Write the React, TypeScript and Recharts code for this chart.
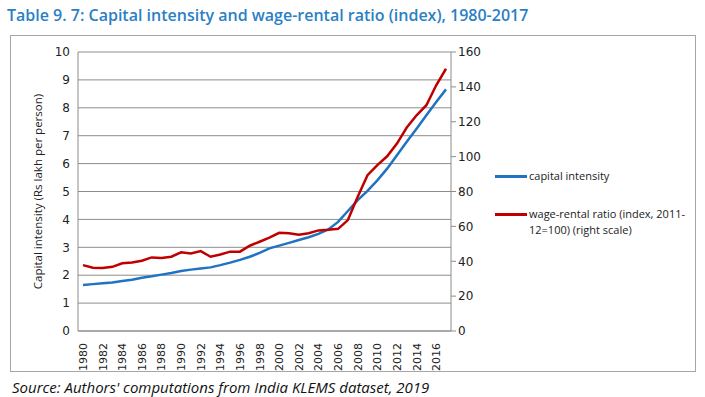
import { LineChart, Line, XAxis, YAxis, CartesianGrid } from "recharts";

const years = [
  1980, 1981, 1982, 1983, 1984, 1985, 1986, 1987, 1988, 1989, 1990, 1991, 1992, 1993, 1994, 1995, 1996, 1997, 1998,
  1999, 2000, 2001, 2002, 2003, 2004, 2005, 2006, 2007, 2008, 2009, 2010, 2011, 2012, 2013, 2014, 2015, 2016, 2017,
];

// Rs lakh per person (left scale)
const capitalIntensity = [
  1.65, 1.68, 1.71, 1.74, 1.79, 1.84, 1.91, 1.96, 2.02, 2.08, 2.15, 2.2, 2.24, 2.28, 2.36, 2.45, 2.55, 2.66, 2.8,
  2.96, 3.06, 3.16, 3.26, 3.36, 3.48, 3.64, 3.91, 4.3, 4.69, 5.02, 5.4, 5.82, 6.3, 6.78, 7.25, 7.73, 8.21, 8.66,
];

// index, 2011-12=100 (right scale)
const wageRental = [
  37.8, 36.3, 36.1, 36.8, 38.8, 39.3, 40.3, 42.2, 41.8, 42.6, 45.1, 44.5, 45.8, 42.6, 43.9, 45.5, 45.5, 48.9, 51.2,
  53.5, 56.3, 56.1, 55.2, 56.1, 57.7, 58.0, 58.6, 63.6, 77.0, 89.4, 95.1, 100.2, 107.5, 116.7, 123.7, 129.5, 140.9,
  150.4,
];

const leftTicks = [0, 1, 2, 3, 4, 5, 6, 7, 8, 9, 10];
const rightTicks = [0, 20, 40, 60, 80, 100, 120, 140, 160];

const data = years.map((y, i) => ({ year: y, ci: capitalIntensity[i], wr: wageRental[i] }));

const BLUE = "#1f73c0";
const RED = "#c00000";
const GRID = "#8c8c8c";

function YearTick(props: any) {
  const { x, y, payload } = props;
  return (
    <text
      x={0}
      y={0}
      transform={`translate(${x + 4},${y + 4}) rotate(-90)`}
      textAnchor="end"
      fontSize={11}
      fontFamily="DejaVu Sans"
      fill="#222"
    >
      {payload.value}
    </text>
  );
}

export default function App() {
  return (
    <div style={{ position: "absolute", left: 0, top: 0, width: 705, height: 397, background: "#fff" }}>
      <div
        style={{
          position: "absolute",
          left: 7,
          top: 4,
          fontFamily: "Open Sans",
          fontWeight: 600,
          fontSize: 16,
          color: "#2b80c5",
          whiteSpace: "nowrap",
        }}
      >
        Table 9. 7: Capital intensity and wage-rental ratio (index), 1980-2017
      </div>
      <div
        style={{
          position: "absolute",
          left: 10,
          top: 35,
          width: 686,
          height: 337,
          border: "1px solid #a6a6a6",
          boxSizing: "border-box",
        }}
      >
        <LineChart
          width={684}
          height={335}
          data={data}
          margin={{ top: 16, right: 204, left: 0, bottom: 0 }}
        >
          <CartesianGrid vertical={false} stroke={GRID} yAxisId="left" horizontalValues={leftTicks} />
          <XAxis
            dataKey="year"
            interval={1}
            tick={<YearTick />}
            tickLine={false}
            axisLine={{ stroke: GRID }}
            height={40}
            padding={{ left: 5, right: 5 }}
          />
          <YAxis
            yAxisId="left"
            domain={[0, 10]}
            ticks={leftTicks}
            interval={0}
            width={67}
            tickLine={false}
            axisLine={{ stroke: GRID }}
            tick={{ fontSize: 12, fill: "#222", fontFamily: "DejaVu Sans" }}
            label={{
              value: "Capital intensity (Rs lakh per person)",
              angle: -90,
              position: "insideLeft",
              dx: 22,
              dy: 0,
              style: { textAnchor: "middle", fontSize: 11.5, fill: "#222", fontFamily: "Open Sans" },
            }}
          />
          <YAxis
            yAxisId="right"
            orientation="right"
            domain={[0, 160]}
            ticks={rightTicks}
            interval={0}
            width={40}
            tickSize={5}
            tickLine={{ stroke: GRID }}
            axisLine={{ stroke: GRID }}
            tick={{ fontSize: 12, fill: "#222", fontFamily: "DejaVu Sans" }}
          />
          <Line
            yAxisId="left"
            type="linear"
            dataKey="ci"
            stroke={BLUE}
            strokeWidth={2.5}
            dot={false}
            isAnimationActive={false}
          />
          <Line
            yAxisId="right"
            type="linear"
            dataKey="wr"
            stroke={RED}
            strokeWidth={2.5}
            dot={false}
            isAnimationActive={false}
          />
        </LineChart>
        <div
          style={{
            position: "absolute",
            left: 484,
            top: 132,
            fontFamily: "Open Sans",
            fontSize: 11,
            color: "#222",
            lineHeight: "16px",
          }}
        >
          <div style={{ display: "flex", alignItems: "flex-start" }}>
            <span style={{ width: 32, height: 3, background: BLUE, marginTop: 7, marginRight: 2 }} />
            <span>capital intensity</span>
          </div>
          <div style={{ display: "flex", alignItems: "flex-start", marginTop: 22 }}>
            <span style={{ width: 32, height: 3, background: RED, marginTop: 7, marginRight: 2, flexShrink: 0 }} />
            <span>
              wage-rental ratio (index, 2011-
              <br />
              12=100) (right scale)
            </span>
          </div>
        </div>
      </div>
      <div
        style={{
          position: "absolute",
          left: 12,
          top: 377,
          fontFamily: "Open Sans",
          fontStyle: "italic",
          fontSize: 15,
          color: "#111",
          whiteSpace: "nowrap",
        }}
      >
        Source: Authors' computations from India KLEMS dataset, 2019
      </div>
    </div>
  );
}
